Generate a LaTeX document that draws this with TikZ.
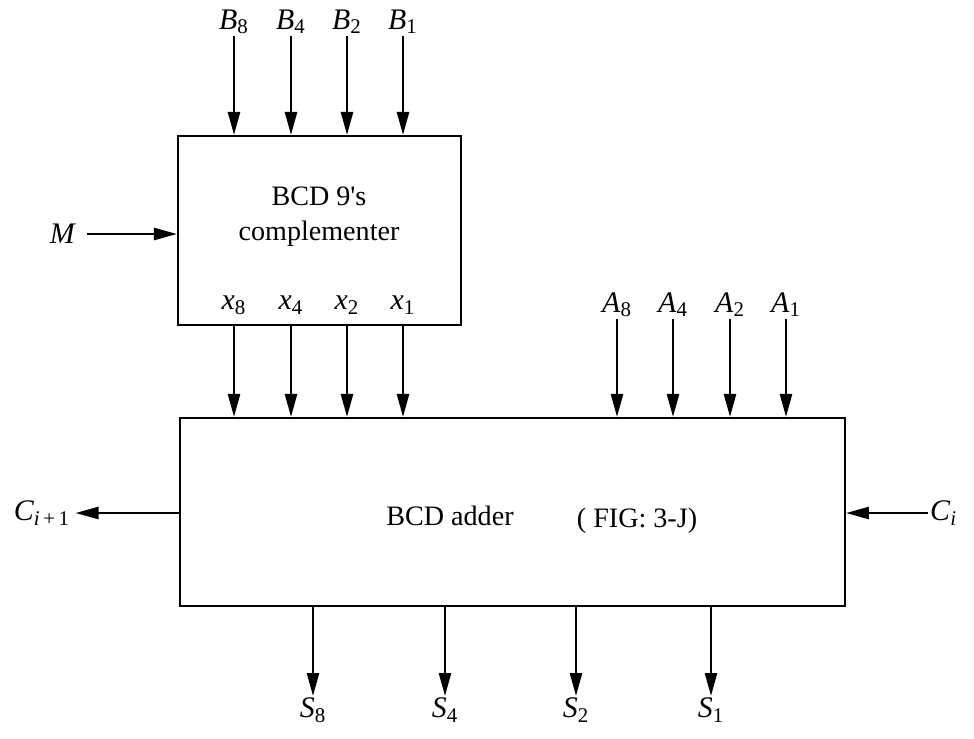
\documentclass[tikz,border=0pt]{standalone}
\usepackage{fontspec}
\setmainfont{Liberation Serif}
\usetikzlibrary{arrows.meta, positioning}

\tikzset{
    block/.style={draw, line width=1.2pt, inner sep=0pt},
    sig/.style={line width=1.4pt, -{Triangle[length=0.46cm, width=0.24cm]}},
    lbl/.style={font=\fontsize{17}{19}\selectfont, inner sep=1pt},
}

\begin{document}
\begin{tikzpicture}[x=0.02cm, y=-0.02cm]
    \useasboundingbox (0,0) rectangle (974,738);

    % complementer block
    \node[block, minimum width=5.66cm, minimum height=3.78cm] (comp) at (319.5,230.5) {};
    \node[align=center, font=\fontsize{16}{20}\selectfont] (comptxt) at (319,217) {BCD 9\textquotesingle s\\complementer};

    % B inputs
    \node[lbl, anchor=south] (b8) at (234,36) {\textit{B}\textsubscript{8}};
    \node[lbl, anchor=south] (b4) at (291,36) {\textit{B}\textsubscript{4}};
    \node[lbl, anchor=south] (b2) at (347,36) {\textit{B}\textsubscript{2}};
    \node[lbl, anchor=south] (b1) at (403,36) {\textit{B}\textsubscript{1}};
    \draw[sig] (b8.south) -- (b8.south |- comp.north);
    \draw[sig] (b4.south) -- (b4.south |- comp.north);
    \draw[sig] (b2.south) -- (b2.south |- comp.north);
    \draw[sig] (b1.south) -- (b1.south |- comp.north);

    % M
    \node[lbl] (m) at (63,234) {\textit{M}};
    \draw[sig] ([xshift=5pt]m.east) -- (m.east -| comp.west);

    % x outputs
    \node[lbl] (x8) at (234,305) {\textit{x}\textsubscript{8}};
    \node[lbl] (x4) at (291,305) {\textit{x}\textsubscript{4}};
    \node[lbl] (x2) at (347,305) {\textit{x}\textsubscript{2}};
    \node[lbl] (x1) at (403,305) {\textit{x}\textsubscript{1}};

    % adder block
    \node[block, minimum width=13.3cm, minimum height=3.76cm] (adder) at (512.5,512) {};
    \node[font=\fontsize{16}{19}\selectfont] (addtxt) at (450,516) {BCD adder};
    \node[font=\fontsize{16}{19}\selectfont] (fig) at (637,521) {( FIG: 3-J)};

    % x into adder
    \draw[sig] (x8 |- comp.south) -- (x8 |- adder.north);
    \draw[sig] (x4 |- comp.south) -- (x4 |- adder.north);
    \draw[sig] (x2 |- comp.south) -- (x2 |- adder.north);
    \draw[sig] (x1 |- comp.south) -- (x1 |- adder.north);

    % A inputs
    \node[lbl, anchor=south] (a8) at (617,319) {\textit{A}\textsubscript{8}};
    \node[lbl, anchor=south] (a4) at (673,319) {\textit{A}\textsubscript{4}};
    \node[lbl, anchor=south] (a2) at (730,319) {\textit{A}\textsubscript{2}};
    \node[lbl, anchor=south] (a1) at (786,319) {\textit{A}\textsubscript{1}};
    \draw[sig] (a8.south) -- (a8.south |- adder.north);
    \draw[sig] (a4.south) -- (a4.south |- adder.north);
    \draw[sig] (a2.south) -- (a2.south |- adder.north);
    \draw[sig] (a1.south) -- (a1.south |- adder.north);

    % carries
    \node[lbl, anchor=east] (cout) at (72,513) {\textit{C}\textsubscript{\textit{i}\,+\,1}};
    \draw[sig] (cout.east -| adder.west) -- ([xshift=2pt]cout.east);
    \node[lbl, anchor=west] (cin) at (928,513) {\textit{C}\textsubscript{\textit{i}}};
    \draw[sig] (cin.west) -- (cin.west -| adder.east);

    % S outputs
    \node[lbl, anchor=north] (s8) at (313,696) {\textit{S}\textsubscript{8}};
    \node[lbl, anchor=north] (s4) at (445,696) {\textit{S}\textsubscript{4}};
    \node[lbl, anchor=north] (s2) at (576,696) {\textit{S}\textsubscript{2}};
    \node[lbl, anchor=north] (s1) at (711,696) {\textit{S}\textsubscript{1}};
    \draw[sig] (s8.north |- adder.south) -- (s8.north);
    \draw[sig] (s4.north |- adder.south) -- (s4.north);
    \draw[sig] (s2.north |- adder.south) -- (s2.north);
    \draw[sig] (s1.north |- adder.south) -- (s1.north);
\end{tikzpicture}
\end{document}
